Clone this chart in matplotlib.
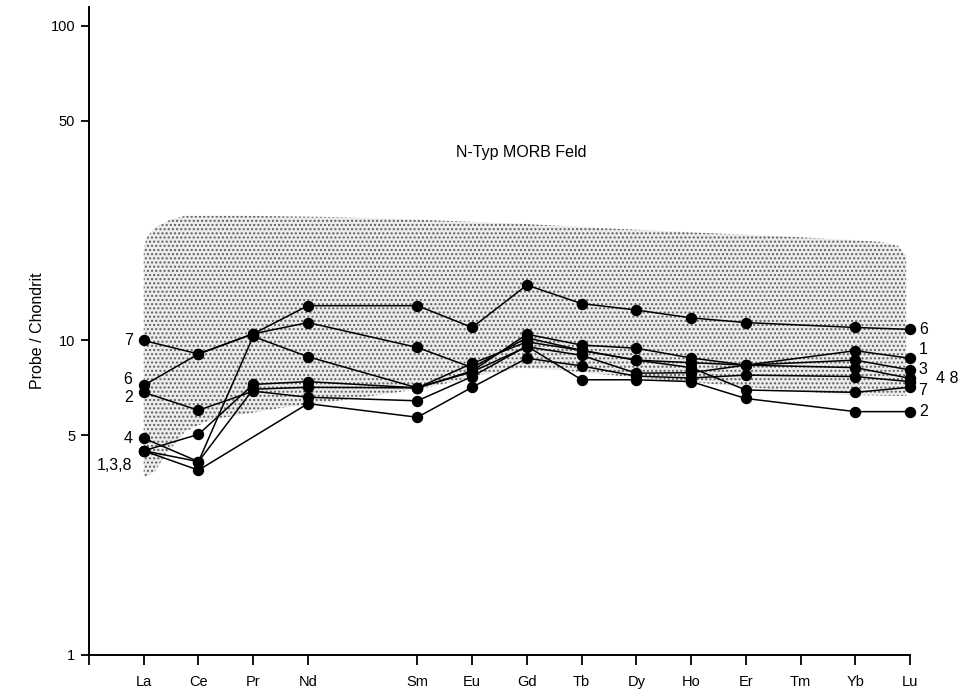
import numpy as np
import matplotlib
matplotlib.use("Agg")
import matplotlib.pyplot as plt
from matplotlib import font_manager

installed = {f.name for f in font_manager.fontManager.ttflist}
main_font = 'Liberation Sans Narrow' if 'Liberation Sans Narrow' in installed else 'Liberation Sans'
plt.rcParams['font.family'] = [main_font, 'DejaVu Sans']
plt.rcParams['hatch.linewidth'] = 1.0

# Element positions on the x axis (atomic number, Pm left out)
tick_names = ['La', 'Ce', 'Pr', 'Nd', 'Sm', 'Eu', 'Gd', 'Tb', 'Dy', 'Ho', 'Er', 'Tm', 'Yb', 'Lu']
tick_pos = [57, 58, 59, 60, 62, 63, 64, 65, 66, 67, 68, 69, 70, 71]

# Elements analysed in the samples (no Tm)
elements = ['La', 'Ce', 'Pr', 'Nd', 'Sm', 'Eu', 'Gd', 'Tb', 'Dy', 'Ho', 'Er', 'Yb', 'Lu']

# Chondrite-normalised REE contents per sample
s1 = [4.46, 4.12, 10.3, 8.88, 7.07, 8.0, 10.47, 9.67, 9.45, 8.8, 8.35, 9.28, 8.78]
s2 = [6.84, 6.0, 6.9, 6.6, 6.43, 7.68, 9.6, 7.5, 7.5, 7.4, 6.54, 5.94, 5.94]
s3 = [4.46, 5.03, 7.25, 7.4, 7.07, 8.45, 9.9, 9.3, 8.66, 8.5, 8.35, 8.66, 8.06]
s4 = [4.89, 4.12, 7.0, 7.1, 7.07, 7.95, 9.55, 8.97, 7.87, 7.9, 8.35, 8.2, 7.58]
s6 = [7.2, 9.06, 10.5, 12.9, 12.9, 11.0, 15.0, 13.1, 12.5, 11.8, 11.4, 11.0, 10.85]
s7 = [10.0, 9.06, 10.5, 11.4, 9.5, 8.2, 10.2, 9.3, 8.66, 8.2, 6.96, 6.84, 7.1]
s8 = [4.46, 3.87, np.nan, 6.3, 5.7, 7.1, 8.78, 8.3, 7.7, 7.6, 7.76, 7.68, 7.40]
samples = [s1, s2, s3, s4, s6, s7, s8]

# N-type MORB field outline (position, value)
field_top_x = [57.0, 57.05, 57.2, 57.48, 57.75, 58.94, 60.4, 62.05, 63.9, 65.3, 67.2, 69.0, 70.45, 70.78, 70.93]
field_top_y = [19.4, 21.2, 22.8, 24.2, 24.9, 24.9, 24.7, 24.2, 23.5, 22.8, 22.0, 21.3, 20.6, 20.0, 18.6]
field_low_x = [70.93, 69.9, 68.26, 66.98, 65.7, 64.6, 63.88, 63.14, 62.41, 61.68, 60.4, 59.49, 58.76, 58.21, 57.75, 57.39, 57.2, 57.0]
field_low_y = [6.66, 6.71, 7.06, 7.38, 7.71, 8.06, 8.18, 7.77, 7.22, 6.86, 6.38, 6.10, 5.80, 5.59, 5.12, 4.32, 3.82, 3.68]

pos = dict(zip(tick_names, tick_pos))
x = np.array([pos[e] for e in elements], dtype=float)

fig = plt.figure(figsize=(9.61, 6.94), dpi=100)
ax = fig.add_axes([89 / 961, 39 / 694, 821 / 961, 648 / 694])
ax.set_yscale('log')
ax.set_xlim(56, 71)
ax.set_ylim(1, 114.9)

# stippled MORB field
ax.fill(field_top_x + field_low_x, field_top_y + field_low_y,
        facecolor='#ececec', edgecolor='#5e5e5e', hatch='....', linewidth=0, zorder=1)
ax.text(63.9, 39.7, 'N-Typ MORB Feld', ha='center', va='center', fontsize=11.5)

for s in samples:
    y = np.array(s, dtype=float)
    ok = ~np.isnan(y)
    ax.plot(x[ok], y[ok], color='black', lw=1.1, marker='o', ms=7.2,
            zorder=3, clip_on=False)

# sample numbers at the La end
left_labels = [('7', s7[0], 0), ('6', s6[0], 4.5), ('2', s2[0], -3.5),
               ('4', s4[0], 0), ('1,3,8', s1[0], -10.5)]
for txt, val, dy in left_labels:
    ax.annotate(txt, (57, val), xytext=(-8, dy), textcoords='offset points',
                ha='right', va='center', fontsize=11.5)

# sample numbers at the Lu end
right_labels = [('6', s6[-1], 0, 7), ('1', s1[-1], 6, 6), ('3', s3[-1], 0, 6),
                ('4 8', s4[-1], 0, 19), ('7', s7[-1], -2, 6), ('2', s2[-1], 0, 7)]
for txt, val, dy, dx in right_labels:
    ax.annotate(txt, (71, val), xytext=(dx, dy), textcoords='offset points',
                ha='left', va='center', fontsize=11.5)

ax.set_xticks([56] + tick_pos)
ax.set_xticklabels([''] + tick_names, fontsize=10.5)
ax.set_yticks([1, 5, 10, 50, 100])
ax.set_yticklabels(['1', '5', '10', '50', '100'], fontsize=10.5)
ax.minorticks_off()
ax.tick_params(axis='x', direction='out', length=7.5, width=1.3, pad=7)
ax.tick_params(axis='y', direction='out', length=6, width=1.3, pad=4)
ax.set_ylabel('Probe / Chondrit', fontsize=11.5, labelpad=4)

for side in ['top', 'right']:
    ax.spines[side].set_visible(False)
for side in ['left', 'bottom']:
    ax.spines[side].set_linewidth(1.4)

fig.savefig('out.png', dpi=100)
